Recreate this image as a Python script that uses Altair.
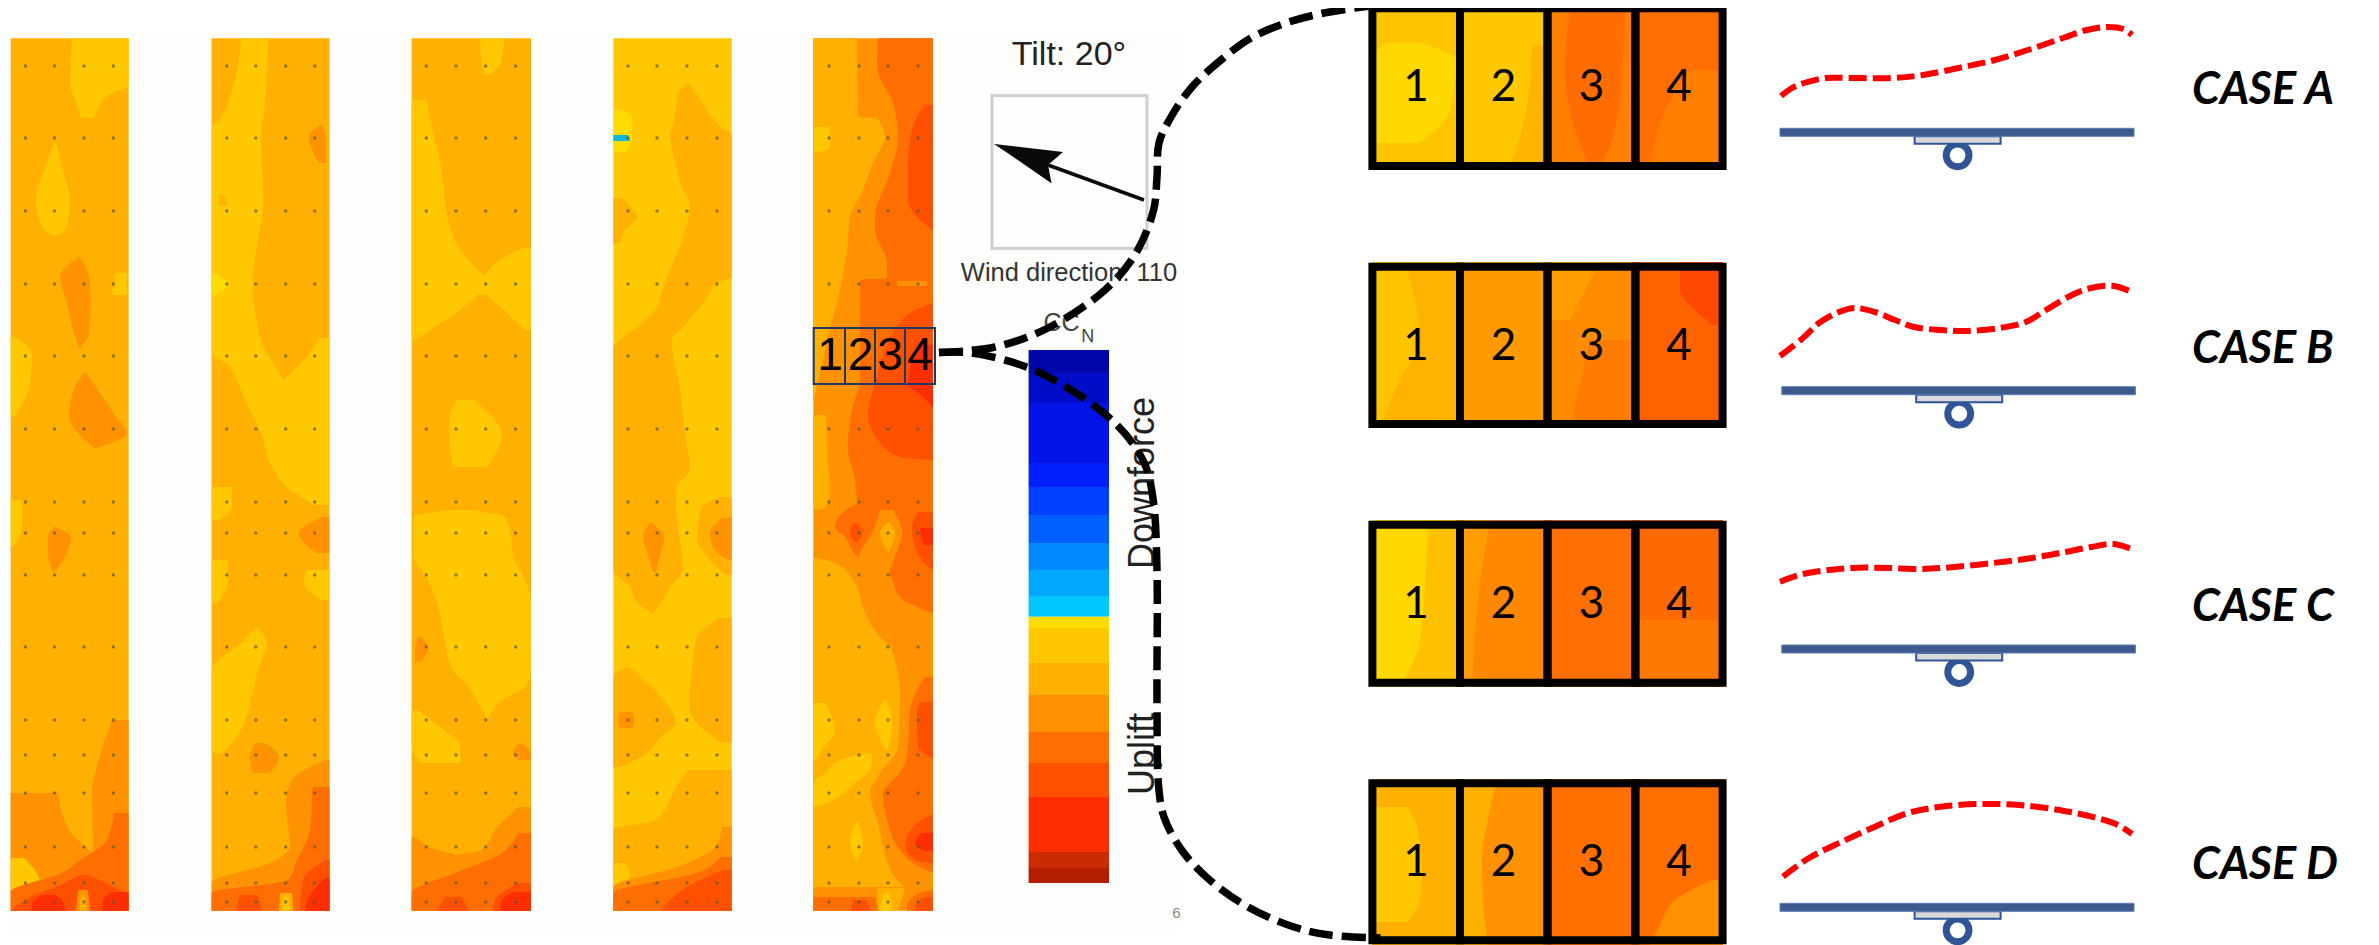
import altair as alt
import pandas as pd

# picture coordinates: x to the right, y downwards
L0, L1, L2, L3, L4, L5, L6, L7 = "#ffdc00", "#ffc800", "#ffb000", "#ff9200", "#ff6e00", "#ff5000", "#ff2e00", "#c82800"

S1L, S1R = 10.7, 128.6
S2L, S2R = 211.6, 329.5
S3L, S3R = 411.6, 531.0
S4L, S4R = 613.3, 731.7
S5L, S5R = 813.3, 933.0
TOP, BOT = 38.3, 910.7

STRIP1 = [
    (L2, [(TOP, S1L, S1R), (BOT, S1L, S1R)]),
    (L1, [(TOP, 72, S1R), (85, 70, S1R), (95, 73, 108), (105, 77, 100), (118, 81, 94)]),
    (L1, [(142, 55, 56), (167, 45, 62), (200, 36, 70), (227, 42, 67), (235, 51, 58)]),
    (L3, [(257, 79, 80), (277, 60, 89), (300, 66, 90.6), (333, 74, 89), (348, 79, 80)]),
    (L1, [(337, S1L, 15), (353, S1L, 32), (383, S1L, 30), (417, S1L, 15)]),
    (L3, [(373, 84, 86), (390, 73.6, 98), (417, 69, 116), (433, 78, 127), (448, 95, 97)]),
    (L1, [(273, 116, 127), (295, 112, 127)]),
    (L1, [(500, S1L, 22), (527, S1L, 22), (547, S1L, 13)]),
    (L3, [(527, 53, 55), (537, 48, 71), (553, 48, 67), (572, 53, 55)]),
    (L3, [(720, 112, S1R), (770, 96, S1R), (790, 92, S1R), (850, 93, S1R), (870, 80, S1R), (BOT, 60, S1R)]),
    (L3, [(793, S1L, 58), (830, S1L, 69), (856, S1L, 95), (875, S1L, 110), (BOT, S1L, 110)]),
    (L1, [(858, S1L, 24), (883, S1L, 40), (892, S1L, 18)]),
    (L4, [(813, 114, S1R), (843, 105, S1R), (860, 80, S1R), (873, 62, S1R), (892, S1L, S1R), (BOT, S1L, S1R)]),
    (L5, [(875, 80, 88), (885, 60, 110), (897, 30, S1R), (BOT, S1L, S1R)]),
    (L6, [(895, 42, 55), (902, 33, 63), (BOT, 31, 65)]),
    (L6, [(892, 112, S1R), (900, 103, S1R), (BOT, 102, S1R)]),
    (L3, [(890, 78, 88), (BOT, 76, 90)]),
    (L2, [(895, 81, 85), (BOT, 79, 87)]),
]

STRIP2 = [
    (L2, [(TOP, S2L, S2R), (BOT, S2L, S2R)]),
    (L1, [(TOP, 241, 268), (90, 232, 266), (120, 219, 263), (128, S2L, 261), (200, S2L, 263), (283, S2L, 253), (333, S2L, 259), (355, S2L, 268), (362, 224, 273), (381, 237, 283)]),
    (L1, [(338, 319, S2R), (360, 304, S2R), (381, 283, S2R)]),
    (L1, [(380, 237, S2R), (400, 245, S2R), (433, 261, S2R), (467, 272, S2R), (490, 290, S2R), (505, 315, S2R)]),
    (L2, [(195, 219, 224), (205, 218, 228)]),
    (L3, [(125, 320, 322), (137, 309, 326), (150, 312, 326), (163, 319, 326)]),
    (L0, [(274, S2L, 216), (285, S2L, 228), (295, S2L, 216)]),
    (L1, [(487, S2L, 232), (507, S2L, 232), (520, S2L, 219)]),
    (L3, [(517, 322, 329), (533, 299, S2R), (553, 316, S2R)]),
    (L1, [(560, S2L, 228), (583, S2L, 228), (603, S2L, 217)]),
    (L1, [(570, 306, S2R), (583, 304, S2R), (600, 321, S2R)]),
    (L1, [(628, 256, 258), (643, 241, 267), (670, S2L, 258), (703, S2L, 250), (730, S2L, 241), (753, S2L, 223)]),
    (L3, [(743, 255, 265), (757, 250, 279), (773, 252, 270)]),
    (L3, [(760, 326, S2R), (780, 292, S2R), (803, 286, S2R), (847, 290, S2R), (863, 270, S2R), (883, S2L, S2R), (BOT, S2L, S2R)]),
    (L4, [(787, 312.5, S2R), (830, 310, S2R), (860, 297, S2R), (880, 288, S2R), (893, S2L, S2R), (BOT, S2L, S2R)]),
    (L5, [(860, 326, S2R), (880, 303, S2R), (BOT, 300, S2R)]),
    (L5, [(895, 240, 258), (BOT, 236, 262)]),
    (L6, [(878, 325, S2R), (895, 310, S2R), (BOT, 305, S2R)]),
    (L2, [(893, 280, 292), (BOT, 279, 293)]),
    (L1, [(897, 284, 288), (BOT, 282, 290)]),
]

STRIP3 = [
    (L2, [(TOP, S3L, S3R), (BOT, S3L, S3R)]),
    (L1, [(TOP, 480, 504.5), (65, 482, 500), (75, 486, 488)]),
    (L1, [(100, S3L, 426), (133, S3L, 433), (167, S3L, 441), (223, S3L, 449), (250, S3L, 460), (276, S3L, 485)]),
    (L1, [(248, 522, S3R), (260, 500, S3R), (276, 484, S3R)]),
    (L1, [(275, S3L, S3R), (294, S3L, S3R)]),
    (L1, [(293, S3L, 480), (310, S3L, 460), (330, S3L, 430), (342, S3L, 413)]),
    (L1, [(293, 484, S3R), (305, 498, S3R), (330, 525, S3R)]),
    (L1, [(400, 457, 473), (420, 449, 495), (433, 449, 502), (467, 453, 487)]),
    (L1, [(510, 451, 469), (517, 413, 505), (537, 413, 511), (557, 413, 513), (570, 422, 520), (603, 437, S3R), (637, 444, S3R), (670, 453, S3R), (687, 469, 525), (697, 475, 507), (718, 487, 488)]),
    (L3, [(637, 419, 421), (647, 415, 428), (662, 415, 421)]),
    (L1, [(710, S3L, 417), (727, S3L, 440), (747, S3L, 460), (763, 422, 460)]),
    (L3, [(743, 519, 521), (753, 513, S3R), (760, 518, S3R)]),
    (L3, [(807, 518, S3R), (830, 495, S3R), (850, 482, S3R), (858, 445, S3R), (BOT, 445, S3R)]),
    (L3, [(837, S3L, 416), (847, S3L, 429), (858, S3L, 460), (BOT, S3L, 460)]),
    (L4, [(833, 518, S3R), (857, 495, S3R), (873, 455, S3R), (893, S3L, S3R), (BOT, S3L, S3R)]),
    (L5, [(883, 518, S3R), (900, 495, S3R), (BOT, 493, S3R)]),
    (L5, [(897, 445, 462), (BOT, 437, 469)]),
    (L6, [(892, 513, S3R), (900, 502, S3R), (BOT, 500, S3R)]),
]

STRIP4 = [
    (L1, [(TOP, S4L, S4R), (BOT, S4L, S4R)]),
    (L2, [(83, 688, 689), (93, 678, 696), (110, 676, 707), (128, 672, 722), (135, 670, S4R), (163, 675, S4R), (187, 682, S4R), (207, 690, S4R), (237, 683, S4R), (277, 667, S4R), (283, 665, 717), (297, 660, 707), (307, 657, 700), (327, 637, 683), (340, 620, 672), (347, S4L, 672), (383, S4L, 679), (433, S4L, 685), (470, S4L, 690), (487, S4L, 676), (503, S4L, 676), (527, S4L, 678), (570, S4L, 683), (587, 630, 670), (603, 638, 661), (613, 652, 653)]),
    (L2, [(198, S4L, 622), (205, S4L, 629), (217, S4L, 637), (230, S4L, 625), (243, S4L, 620)]),
    (L0, [(110, 614, 622), (118, 614, 632), (140, 614, 632), (152, 614, 626)]),
    ("#10b8d8", [(135, S4L, 628), (141, S4L, 630)]),
    (L2, [(497, 720, S4R), (507, 702, S4R), (537, 697, S4R), (560, 710, S4R), (575, 725, S4R)]),
    (L3, [(518, 722, S4R), (533, 710, S4R), (550, 715, S4R), (560, 728, S4R)]),
    (L3, [(523, 650, 652), (537, 643, 664), (555, 648, 660), (572, 653, 656)]),
    (L2, [(618, 720, S4R), (637, 697, S4R), (670, 692, S4R), (703, 689, S4R), (723, 697, S4R), (743, 722, S4R)]),
    (L2, [(667, 627, 629), (677, S4L, 641), (703, S4L, 666), (723, S4L, 676), (737, S4L, 661), (757, S4L, 641), (767, S4L, 620)]),
    (L3, [(712, 620, 632), (720, 618, 634), (728, 620, 632)]),
    (L2, [(770, 687, S4R), (787, 676, S4R), (820, 656, S4R), (830, S4L, S4R), (BOT, S4L, S4R)]),
    (L1, [(863, S4L, 625), (875, S4L, 630), (887, S4L, 620)]),
    (L3, [(827, 722, S4R), (847, 715, S4R), (867, 677, S4R), (887, S4L, S4R), (BOT, S4L, S4R)]),
    (L4, [(857, 720, S4R), (873, 697, S4R), (893, S4L, S4R), (BOT, S4L, S4R)]),
    (L5, [(870, 722, S4R), (890, 682, S4R), (BOT, 661, S4R)]),
]

STRIP5 = [
    (L3, [(TOP, S5L, S5R), (BOT, S5L, S5R)]),
    (L2, [(TOP, S5L, 857), (117, S5L, 858), (118, S5L, 877), (137, S5L, 885), (163, S5L, 873), (190, S5L, 863), (217, S5L, 850), (250, S5L, 847), (317, S5L, 833), (327, S5L, 830), (383, S5L, 818), (400, S5L, 814)]),
    (L1, [(127, 814, 828), (135, 814, 830), (147, 814, 830), (153, 814, 818)]),
    (L4, [(TOP, 878, S5R), (67, 877, S5R), (103, 893, S5R), (137, 898, S5R), (173, 890, S5R), (217, 875, S5R), (230, 875, S5R), (263, 887, S5R), (278, 887, S5R), (280, 860, S5R), (317, 860, S5R), (380, 860, S5R), (410, 852, S5R), (447, 848, S5R), (480, 855, S5R), (503, 857, S5R), (507, 850, S5R), (527, 835, S5R), (537, 845, S5R), (557, 858, S5R), (573, 888, S5R), (597, 900, S5R), (613, 932, S5R)]),
    (L3, [(281, 897, 927), (286, 897, 927)]),
    (L3, [(510, 880, 893), (533, 872, 902), (557, 859, 895), (573, 888, 889)]),
    (L5, [(105, 925, S5R), (115, 918, S5R), (127, 913, S5R), (163, 908, S5R), (200, 908, S5R), (220, 920, S5R), (230, 932, S5R)]),
    (L5, [(303, 932, S5R), (313, 910, S5R), (327, 897, S5R), (384, 875, S5R), (413, 868, S5R), (440, 878, S5R), (457, 900, S5R), (460, 932, S5R)]),
    (L6, [(345, 918, S5R), (384, 908, S5R), (395, 921, S5R), (407, 932, S5R)]),
    (L5, [(523, 853, 857), (533, 850, 862), (542, 854, 858)]),
    (L5, [(512, 918, S5R), (527, 912, S5R), (553, 917, S5R), (570, 932, S5R)]),
    (L6, [(528, 920, S5R), (537, 921, S5R), (545, 924, S5R)]),
    (L2, [(415, S5L, 826), (463, S5L, 828), (490, S5L, 830), (508, S5L, 825), (510, S5L, 815)]),
    (L2, [(522, 888, 889), (533, 880, 895), (552, 888, 889)]),
    (L2, [(558, S5L, 815), (562, S5L, 833), (583, S5L, 855), (613, S5L, 865), (637, S5L, 880), (650, S5L, 892), (697, S5L, 900), (747, S5L, 898), (773, S5L, 880), (793, S5L, 870), (823, S5L, 878), (863, S5L, 888), (880, S5L, 897), (887, S5L, 905)]),
    (L1, [(700, 884, 886), (722, 875, 892), (750, 886, 888)]),
    (L1, [(703, S5L, 825), (730, S5L, 835), (750, S5L, 822), (760, S5L, 816)]),
    (L1, [(753, 870, 872), (760, 840, 872), (773, 825, 867), (783, S5L, 855), (800, S5L, 833), (806, S5L, 820)]),
    (L1, [(822, 856, 858), (842, 850, 863), (860, 856, 858)]),
    (L4, [(677, 925, S5R), (690, 917, S5R), (710, 910, S5R), (747, 908, S5R), (770, 902, S5R), (778, 895, S5R), (783, 890, S5R), (793, 883, S5R), (823, 888, S5R), (850, 900, S5R), (867, 920, S5R), (872, 932, S5R)]),
    (L5, [(702, 920, S5R), (713, 917, S5R), (747, 918, S5R), (758, 932, S5R)]),
    (L5, [(815, 930, S5R), (827, 913, S5R), (845, 905, S5R), (860, 915, S5R), (863, 932, S5R)]),
    (L6, [(833, 922, S5R), (843, 915, S5R), (851, 925, S5R)]),
    (L3, [(888, S5L, 877), (BOT, S5L, 877)]),
    (L2, [(888, 877, 905), (BOT, 878, 898)]),
    (L1, [(893, 884, 890), (BOT, 879, 892)]),
    (L4, [(897, S5L, 875), (BOT, S5L, 878)]),
    (L5, [(900, 853, 866), (BOT, 851, 870)]),
    (L4, [(890, 930, S5R), (895, 915, S5R), (907, 907, S5R), (BOT, 907, S5R)]),
    (L5, [(897, 925, S5R), (902, 917, S5R), (BOT, 915, S5R)]),
]

C1L, C1R, C2L, C2R, C3L, C3R, C4L, C4R = 1372, 1460, 1460, 1548, 1548, 1635, 1635, 1723
CELL_A = [
    ("#ffc400", [(8, C1L, C1R), (168, C1L, C1R)]),
    ("#ffd800", [(43, 1385, 1420), (60, C1L, 1456), (110, C1L, 1450), (143, C1L, 1420)]),
    ("#ffc800", [(8, C2L, C2R), (168, C2L, C2R)]),
    ("#ffb400", [(45, 1532, C2R), (100, 1528, C2R), (168, 1510, C2R)]),
    ("#ff8000", [(8, C3L, C3R), (168, C3L, C3R)]),
    ("#ff6c00", [(8, 1570, 1625), (70, 1565, 1622), (130, 1575, 1615), (168, 1590, 1600)]),
    ("#ff6e00", [(8, C4L, C4R), (168, C4L, C4R)]),
    ("#ff7e00", [(70, 1690, C4R), (110, 1665, C4R), (168, 1650, C4R)]),
]
CELL_B = [
    ("#ffc400", [(262, C1L, C1R), (428, C1L, C1R)]),
    ("#ffb200", [(262, 1405, C1R), (340, 1420, C1R), (380, 1400, C1R), (428, 1380, C1R)]),
    ("#ff9a00", [(262, C2L, C2R), (428, C2L, C2R)]),
    ("#ff8c00", [(262, C3L, C3R), (428, C3L, C3R)]),
    ("#ff9c00", [(262, C3L, 1600), (320, C3L, 1570)]),
    ("#ff7c00", [(340, 1590, C3R), (428, 1570, C3R)]),
    ("#ff6200", [(262, C4L, C4R), (428, C4L, C4R)]),
    ("#ff4800", [(262, 1680, C4R), (290, 1680, C4R), (310, 1695, C4R), (325, 1712, C4R)]),
]
CELL_C = [
    ("#ffd800", [(520, C1L, C1R), (687, C1L, C1R)]),
    ("#ffc000", [(520, 1428, C1R), (640, 1420, C1R), (687, 1400, C1R)]),
    ("#ff8800", [(520, C2L, C2R), (687, C2L, C2R)]),
    ("#ff9c00", [(520, C2L, 1490), (600, C2L, 1478), (687, C2L, 1472)]),
    ("#ff6e00", [(520, C3L, C3R), (687, C3L, C3R)]),
    ("#ff6a00", [(520, C4L, C4R), (687, C4L, C4R)]),
    ("#ff7800", [(620, C4L, C4R), (687, C4L, C4R)]),
]
CELL_D = [
    ("#ffb000", [(779, C1L, C1R), (945, C1L, C1R)]),
    ("#ffc800", [(807, C1L, 1408), (830, C1L, 1418), (880, C1L, 1422), (905, C1L, 1418), (922, C1L, 1408)]),
    ("#ff9200", [(779, C2L, C2R), (945, C2L, C2R)]),
    ("#ffb000", [(779, C2L, 1497), (810, C2L, 1490), (860, C2L, 1482), (900, C2L, 1483), (945, C2L, 1488)]),
    ("#ff7000", [(779, C3L, C3R), (945, C3L, C3R)]),
    ("#ff7000", [(779, C4L, C4R), (945, C4L, C4R)]),
    ("#ff9000", [(880, 1712, C4R), (900, 1675, C4R), (925, 1660, C4R), (945, 1650, C4R)]),
]

DOT_ROWS = [66, 138, 211, 284, 356, 429, 502, 533, 575, 647, 720, 755, 793, 847, 883, 902]
DOT_COLS = [25.4, 54.5, 84, 113.4, 226.8, 255.8, 285.7, 314.7, 426.3, 456, 485.7, 515.6, 628, 657, 687, 717, 829, 859, 888, 918]

BAR_Y0 = [350, 373, 403, 463, 487, 515, 543, 570, 596, 616.7, 628, 663, 695, 732, 763, 797, 852, 868]
BAR_Y1 = [373, 403, 463, 487, 515, 543, 570, 596, 616.7, 628, 663, 695, 732, 763, 797, 852, 868, 883]
BAR_COL = ["#0006a8", "#000dc8", "#0014e8", "#0020ff", "#0040ff", "#0060ff", "#0088ff", "#00a8ff", "#00c8ff", "#ffdc00", "#ffc800", "#ffb000", "#ff9000", "#ff6e00", "#ff5000", "#ff2e00", "#cc2a00", "#b41e00"]

SMALL_CELLS = [813.7, 845, 875, 905, 935]
SMALL_TOP, SMALL_BOT = 328, 384
BIG_CELLS = [1372.4, 1460, 1547.5, 1635.4, 1722.6]
BIG_TOPS = [8.3, 266.7, 524.7, 783.3]
BIG_BOTS = [166, 424, 682.7, 940.3]
DIGIT_X = [1416, 1503.5, 1591.5, 1679]
DIGIT_Y = [88, 347, 605, 863]
SMALL_DIGIT_X = [830, 860.5, 890, 920]
CASE_NAMES = ["CASE A", "CASE B", "CASE C", "CASE D"]
CASE_Y = [90, 349, 607, 865]

PANEL_X0 = [1780, 1781.8, 1781.8, 1780]
PANEL_X1 = [2134, 2135.4, 2135.4, 2134]
PANEL_TOP = [128.3, 386.7, 645, 903.3]

RED_A_X = [1781, 1792, 1804, 1826, 1850, 1891, 1923, 1963, 1995, 2031, 2063, 2087, 2107, 2123, 2132]
RED_A_Y = [96, 88, 83, 78, 78, 78, 75, 67, 60, 49, 38, 30, 27, 29, 35]
RED_B_X = [1780, 1803, 1819, 1839, 1855, 1875, 1895, 1914, 1941, 1967, 2000, 2026, 2046, 2072, 2091, 2114, 2132]
RED_B_Y = [356, 338, 323, 312, 308, 312, 320, 327, 330, 331, 328, 322, 310, 295, 288, 286, 292]
RED_C_X = [1780, 1803, 1829, 1858.5, 1888, 1921, 1954, 1993, 2032, 2065, 2091, 2114, 2131]
RED_C_Y = [581.7, 574, 570, 567.7, 568, 569, 567, 563, 558, 552, 547, 544, 549]
RED_D_X = [1783, 1809, 1842, 1875, 1908, 1940.6, 1980, 2019, 2059, 2091.5, 2118, 2132]
RED_D_Y = [876.7, 858, 841.7, 826.7, 813, 806.7, 804, 805, 810, 816.7, 825, 834]

UP_X = [939, 995, 1048, 1105, 1136, 1153.6, 1157, 1159, 1171, 1192, 1221, 1251, 1286, 1324, 1370]
UP_Y = [352.6, 347, 328, 290, 253, 210, 177, 143, 117, 87, 60, 38, 23, 13, 6]
DN_X = [939, 971.6, 1029, 1079, 1109.5, 1132.5, 1146, 1153.6, 1157, 1157, 1158.7, 1164, 1181.6, 1209.7, 1248, 1294, 1329.6, 1380.6]
DN_Y = [352.6, 353, 368, 395, 418, 443, 467, 503, 570, 703, 787, 817, 850, 880, 907, 927, 935, 938]

XS = alt.Scale(domain=[8, 2371], nice=False, zero=False)
YS = alt.Scale(domain=[945, 8], nice=False, zero=False)


def X(f):
    return alt.X(f, type="quantitative", scale=XS, axis=None)


def Y(f):
    return alt.Y(f, type="quantitative", scale=YS, axis=None)


blobs = []
for group in [STRIP1, STRIP2, STRIP3, STRIP4, STRIP5, CELL_A, CELL_B, CELL_C, CELL_D]:
    blobs.extend(group)
rows = []
for k, (col, pts) in enumerate(blobs):
    for y, x0, x1 in pts:
        rows.append(dict(id=f"b{k:03d}", col=col, y=y, x0=x0, x1=x1))
blob_df = pd.DataFrame(rows)

layers = []
bg = pd.DataFrame(dict(x0=[8], x1=[1178], y0=[34], y1=[930]))
layers.append(alt.Chart(bg).mark_rect(color="#fdfdfb").encode(x=X("x0"), x2="x1", y=Y("y0"), y2="y1"))

layers.append(
    alt.Chart(blob_df).mark_area(orient="horizontal", interpolate="monotone").encode(
        y=Y("y"), x=X("x0"), x2="x1",
        color=alt.Color("col:N", scale=None),
        detail="id:N",
    )
)

dots = pd.DataFrame([dict(x=x, y=y) for x in DOT_COLS for y in DOT_ROWS if not (x > 800 and y == 356)])
layers.append(alt.Chart(dots).mark_circle(size=12, color="#5f5a30", opacity=0.7).encode(x=X("x"), y=Y("y")))

bar = pd.DataFrame(dict(x0=[1028.6] * len(BAR_Y0), x1=[1109] * len(BAR_Y0), y0=BAR_Y0, y1=BAR_Y1, col=BAR_COL))
layers.append(alt.Chart(bar).mark_rect().encode(x=X("x0"), x2="x1", y=Y("y0"), y2="y1", color=alt.Color("col:N", scale=None)))

small = pd.DataFrame(dict(x0=SMALL_CELLS[:-1], x1=SMALL_CELLS[1:], y0=[SMALL_TOP] * 4, y1=[SMALL_BOT] * 4))
layers.append(alt.Chart(small).mark_rect(filled=False, stroke="#1f3864", strokeWidth=2).encode(x=X("x0"), x2="x1", y=Y("y0"), y2="y1"))

big = pd.DataFrame([
    dict(x0=BIG_CELLS[i], x1=BIG_CELLS[i + 1], y0=t, y1=b)
    for t, b in zip(BIG_TOPS, BIG_BOTS) for i in range(4)
])
layers.append(alt.Chart(big).mark_rect(filled=False, stroke="#000000", strokeWidth=8).encode(x=X("x0"), x2="x1", y=Y("y0"), y2="y1"))

frame = pd.DataFrame(dict(x0=[992], x1=[1147], y0=[95.5], y1=[248.5]))
layers.append(alt.Chart(frame).mark_rect(filled=False, stroke="#cfcfcf", strokeWidth=3).encode(x=X("x0"), x2="x1", y=Y("y0"), y2="y1"))

shaft = pd.DataFrame(dict(x=[1144, 1048], y=[200, 165], i=[0, 1]))
layers.append(alt.Chart(shaft).mark_line(color="#0a0a0a", strokeWidth=3.5).encode(x=X("x"), y=Y("y"), order="i:Q"))
head = pd.DataFrame(dict(y=[144, 152, 165, 183], x0=[994, 1006, 1025, 1051], x1=[994.5, 1063, 1048, 1051.5]))
layers.append(alt.Chart(head).mark_area(orient="horizontal", color="#0a0a0a").encode(y=Y("y"), x=X("x0"), x2="x1"))

rings, bars, brackets = [], [], []
for x0, x1, t in zip(PANEL_X0, PANEL_X1, PANEL_TOP):
    mid = (x0 + x1) / 2 + 0.6
    rings.append(dict(x=mid, y=t + 27))
    bars.append(dict(x0=x0, x1=x1, y0=t, y1=t + 8))
    brackets.append(dict(x0=mid - 43, x1=mid + 43, y0=t + 8, y1=t + 15.5))
layers.append(alt.Chart(pd.DataFrame(rings)).mark_point(size=520, strokeWidth=7, color="#2f5597", filled=False, opacity=1).encode(x=X("x"), y=Y("y")))
layers.append(alt.Chart(pd.DataFrame(brackets)).mark_rect(fill="#d9d9d9", stroke="#2f5597", strokeWidth=2).encode(x=X("x0"), x2="x1", y=Y("y0"), y2="y1"))
layers.append(alt.Chart(pd.DataFrame(bars)).mark_rect(fill="#3c5a8c", stroke="#5b7db5", strokeWidth=1).encode(x=X("x0"), x2="x1", y=Y("y0"), y2="y1"))


def text_layer(items, **kw):
    df = pd.DataFrame(items, columns=["x", "y", "t"])
    return alt.Chart(df).mark_text(baseline="middle", **kw).encode(x=X("x"), y=Y("y"), text="t:N")


SANS = "Liberation Sans"
layers.append(text_layer([(1069, 55, "Tilt: 20°")], font=SANS, fontSize=34, color="#222222"))
layers.append(text_layer([(1069, 273, "Wind direction: 110")], font=SANS, fontSize=25.5, color="#333333"))
layers.append(text_layer([(1061.6, 323, "CC")], font=SANS, fontSize=25, color="#444444"))
layers.append(text_layer([(1087.7, 337, "N")], font=SANS, fontSize=18, color="#444444"))
layers.append(text_layer([(1143, 483, "Downforce")], font=SANS, fontSize=36, angle=270, color="#222222"))
layers.append(text_layer([(1143, 754, "Uplift")], font=SANS, fontSize=36, angle=270, color="#222222"))
layers.append(text_layer([(1176.5, 912.7, "6")], font=SANS, fontSize=15, color="#888888"))
layers.append(text_layer([(x, 356, str(i + 1)) for i, x in enumerate(SMALL_DIGIT_X)], font=SANS, fontSize=46, color="#000000"))
layers.append(text_layer([(x, y, str(i + 1)) for y in DIGIT_Y for i, x in enumerate(DIGIT_X)], font="Lato", fontSize=44, color="#000000"))
layers.append(text_layer([(2192, y, n) for n, y in zip(CASE_NAMES, CASE_Y)], font="Lato", fontSize=45, fontStyle="italic", fontWeight="bold", align="left", color="#000000"))

red_rows = []
for name, xs, ys in [("A", RED_A_X, RED_A_Y), ("B", RED_B_X, RED_B_Y), ("C", RED_C_X, RED_C_Y), ("D", RED_D_X, RED_D_Y)]:
    for i, (x, y) in enumerate(zip(xs, ys)):
        red_rows.append(dict(id=name, i=i, x=x, y=y))
layers.append(
    alt.Chart(pd.DataFrame(red_rows)).mark_line(color="#ff0000", strokeWidth=6, strokeDash=[18, 6], interpolate="catmull-rom").encode(
        x=X("x"), y=Y("y"), detail="id:N", order="i:Q"
    )
)
blk_rows = []
for name, xs, ys in [("up", UP_X, UP_Y), ("dn", DN_X, DN_Y)]:
    for i, (x, y) in enumerate(zip(xs, ys)):
        blk_rows.append(dict(id=name, i=i, x=x, y=y))
layers.append(
    alt.Chart(pd.DataFrame(blk_rows)).mark_line(color="#000000", strokeWidth=7.5, strokeDash=[24, 9], interpolate="catmull-rom").encode(
        x=X("x"), y=Y("y"), detail="id:N", order="i:Q"
    )
)

chart = alt.layer(*layers).properties(
    width=2363, height=937, padding=0, autosize="none", background="white"
).configure_view(strokeWidth=0)

chart.save("out.html", embed_options={"renderer": "svg", "actions": False})
